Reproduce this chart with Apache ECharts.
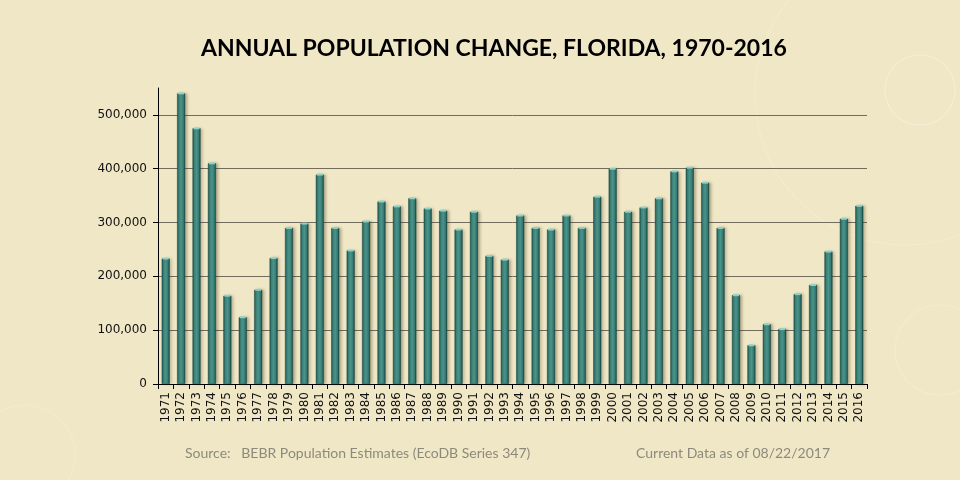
<!DOCTYPE html>
<html>
<head>
<meta charset="utf-8">
<script src="https://cdn.jsdelivr.net/npm/echarts@6/dist/echarts.min.js"></script>
<style>
  html, body { margin: 0; padding: 0; background: #f0e7c6; }
  #chart { width: 960px; height: 480px; }
</style>
</head>
<body>
<div id="chart"></div>
<script>
// years on the x axis
var years = [
  '1971','1972','1973','1974','1975','1976','1977','1978','1979','1980',
  '1981','1982','1983','1984','1985','1986','1987','1988','1989','1990',
  '1991','1992','1993','1994','1995','1996','1997','1998','1999','2000',
  '2001','2002','2003','2004','2005','2006','2007','2008','2009','2010',
  '2011','2012','2013','2014','2015','2016'
]
// annual population change
var popChange = [
  233000, 540000, 475000, 410000, 164000, 124000, 175000, 234000, 290000, 298000,
  389000, 290000, 248000, 302000, 339000, 330000, 345000, 326000, 322000, 287000,
  320000, 238000, 231000, 313000, 290000, 287000, 313000, 290000, 348000, 400000,
  320000, 328000, 345000, 395000, 402000, 374000, 290000, 165000, 72000, 111000,
  102000, 167000, 184000, 246000, 307000, 331000
]
var titleText = 'ANNUAL POPULATION CHANGE, FLORIDA, 1970-2016'
var sourceText = 'Source:   BEBR Population Estimates (EcoDB Series 347)'
var dateText = 'Current Data as of 08/22/2017'

var myChart = echarts.init(document.getElementById('chart'))

var barColor = new echarts.graphic.LinearGradient(0, 0, 1, 0, [
  { offset: 0, color: '#1d4f4a' },
  { offset: 0.25, color: '#3d8880' },
  { offset: 0.5, color: '#4b978e' },
  { offset: 0.8, color: '#347870' },
  { offset: 1, color: '#143b37' }
])

var ringStyle = function (a) {
  return { fill: 'none', stroke: 'rgba(255,255,245,' + a + ')', lineWidth: 1.2 }
}

var option = {
  backgroundColor: '#f0e7c6',
  animation: false,
  title: {
    text: titleText,
    left: 196,
    top: 32,
    textStyle: {
      fontFamily: 'Lato',
      fontWeight: 'bold',
      fontSize: 23,
      color: '#000'
    }
  },
  graphic: [
    { type: 'circle', shape: { cx: 905, cy: 95, r: 150 }, style: ringStyle(0.2), silent: true },
    { type: 'circle', shape: { cx: 920, cy: 90, r: 35 }, style: ringStyle(0.3), silent: true },
    { type: 'circle', shape: { cx: 940, cy: 350, r: 45 }, style: ringStyle(0.2), silent: true },
    { type: 'circle', shape: { cx: 25, cy: 455, r: 50 }, style: ringStyle(0.2), silent: true },
    {
      type: 'text', left: 185, top: 446,
      style: { text: sourceText, fill: '#8c8a7c', font: '14px Lato' }
    },
    {
      type: 'text', left: 636, top: 446,
      style: { text: dateText, fill: '#8c8a7c', font: '14px Lato' }
    }
  ],
  grid: {
    left: 158,
    right: 93,
    top: 88,
    bottom: 96,
    containLabel: false
  },
  xAxis: {
    type: 'category',
    data: years,
    boundaryGap: true,
    axisLine: { lineStyle: { color: '#000', width: 1 } },
    axisTick: { show: true, alignWithLabel: false, length: 5, lineStyle: { color: '#000' } },
    axisLabel: {
      interval: 0,
      rotate: 90,
      margin: 8,
      fontFamily: 'DejaVu Sans',
      fontSize: 12,
      color: '#111'
    }
  },
  yAxis: {
    type: 'value',
    min: 0,
    max: 550000,
    interval: 100000,
    axisLine: { show: true, lineStyle: { color: '#000', width: 1 } },
    axisTick: { show: true, length: 5, lineStyle: { color: '#000' } },
    axisLabel: {
      showMaxLabel: false,
      margin: 11,
      fontFamily: 'DejaVu Sans',
      fontSize: 12,
      color: '#111',
      formatter: function (v) { return v === 0 ? '0' : v.toLocaleString('en-US') }
    },
    splitLine: {
      show: true,
      showMaxLine: false,
      lineStyle: { color: '#716c5e', width: 1 }
    }
  },
  series: [
    {
      type: 'bar',
      data: popChange,
      barWidth: 8,
      itemStyle: {
        color: barColor,
        borderColor: '#1a4844',
        borderWidth: 0.5,
        shadowColor: 'rgba(60,50,20,0.35)',
        shadowBlur: 3,
        shadowOffsetX: 2,
        shadowOffsetY: 0
      }
    },
    {
      // light cap on top of each bar
      type: 'pictorialBar',
      data: popChange,
      symbol: 'rect',
      symbolSize: [6, 2],
      symbolPosition: 'end',
      symbolOffset: [0, -1],
      itemStyle: { color: '#8fd2c6' },
      z: 3
    }
  ]
}

myChart.setOption(option)
</script>
</body>
</html>
